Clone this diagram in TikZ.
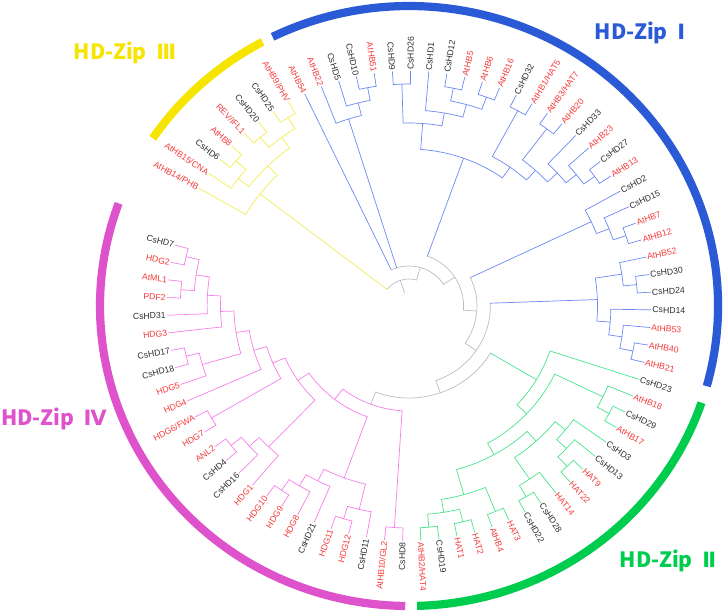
\documentclass[tikz,border=0pt]{standalone}
\usepackage{fontspec}
\setmainfont{Liberation Sans}
\newfontfamily\titlefont{Noto Sans CJK KR}
\newfontfamily\numfont{DejaVu Sans}
\usetikzlibrary{positioning}

\definecolor{zipone}{HTML}{2B5AD6}
\definecolor{ziptwo}{HTML}{00CC4E}
\definecolor{zipthree}{HTML}{F5E500}
\definecolor{zipfour}{HTML}{DE52CC}
\definecolor{onebr}{HTML}{6C88F4}
\definecolor{twobr}{HTML}{48E48C}
\definecolor{threebr}{HTML}{F3EC55}
\definecolor{fourbr}{HTML}{F77EE9}
\definecolor{backbr}{HTML}{BDBDBD}
\definecolor{atred}{HTML}{F53A3A}
\definecolor{csgrey}{HTML}{2E2E2E}

\tikzset{
  branch/.style={line width=0.6pt, line cap=round},
  leafname/.style={font=\fontsize{7.4}{8}\selectfont, inner sep=1pt},
  ring/.style={line width=7pt},
  cladename/.style={font=\titlefont\bfseries\fontsize{18}{21}\selectfont}
}

% leaf: name, index, branch colour, text colour, text
\newcommand{\tleaf}[5]{%
  \pgfmathsetmacro\leafang{165+4.3125*#2}%
  \expandafter\xdef\csname ta@#1\endcsname{\leafang}%
  \expandafter\xdef\csname th@#1\endcsname{0}%
  \expandafter\xdef\csname tc@#1\endcsname{#3}%
  \coordinate (#1) at (\leafang:235);
  \pgfmathsetmacro\leafrot{atan2(sin(\leafang),1.03*cos(\leafang))}%
  \pgfmathtruncatemacro\leafleft{cos(\leafang)<0 ? 1 : 0}%
  \ifnum\leafleft=1
    \node[leafname, text=#4, anchor=east, rotate=\leafrot-180] (#1-t) at (#1) {#5};
  \else
    \node[leafname, text=#4, anchor=west, rotate=\leafrot] (#1-t) at (#1) {#5};
  \fi}

% join: name, branch colour, children in order of angle
\newcommand{\tjoin}[3]{%
  \gdef\jfirst{}\gdef\jmax{0}%
  \foreach \kid in {#3}{%
    \edef\ka{\csname ta@\kid\endcsname}\edef\kh{\csname th@\kid\endcsname}%
    \ifx\jfirst\empty\xdef\jfirst{\ka}\fi
    \xdef\jlast{\ka}%
    \pgfmathsetmacro\jt{max(\jmax,\kh)}%
    \xdef\jmax{\jt}}%
  \pgfmathsetmacro\jh{\jmax+1}%
  \pgfmathsetmacro\jr{235-13*\jh}%
  \pgfmathsetmacro\jm{(\jfirst+\jlast)/2}%
  \coordinate (#1) at (\jm:\jr);
  \draw[branch, color=#2] (\jfirst:\jr) arc[start angle=\jfirst, end angle=\jlast, radius=\jr];
  \foreach \kid in {#3}{%
    \edef\ka{\csname ta@\kid\endcsname}\edef\kc{\csname tc@\kid\endcsname}%
    \draw[branch, color=\kc] (\ka:\jr) -- (\kid);}%
  \expandafter\xdef\csname ta@#1\endcsname{\jm}%
  \expandafter\xdef\csname th@#1\endcsname{\jh}%
  \expandafter\xdef\csname tc@#1\endcsname{#2}}

\begin{document}
\begin{tikzpicture}[x=0.3mm, y=0.3mm]
\useasboundingbox (-409,-306) rectangle (315,306);

\begin{scope}[xscale=1.03]
% HD-Zip IV leaves
\tleaf{cshd7}{0}{fourbr}{csgrey}{CsHD7}
\tleaf{hdg2}{1}{fourbr}{atred}{HDG2}
\tleaf{atml1}{2}{fourbr}{atred}{AtML1}
\tleaf{pdf2}{3}{fourbr}{atred}{PDF2}
\tleaf{cshd31}{4}{fourbr}{csgrey}{CsHD31}
\tleaf{hdg3}{5}{fourbr}{atred}{HDG3}
\tleaf{cshd17}{6}{fourbr}{csgrey}{CsHD17}
\tleaf{cshd18}{7}{fourbr}{csgrey}{CsHD18}
\tleaf{hdg5}{8}{fourbr}{atred}{HDG5}
\tleaf{hdg4}{9}{fourbr}{atred}{HDG4}
\tleaf{hdg6}{10}{fourbr}{atred}{HDG6/FWA}
\tleaf{hdg7}{11}{fourbr}{atred}{HDG7}
\tleaf{anl2}{12}{fourbr}{atred}{ANL2}
\tleaf{cshd4}{13}{fourbr}{csgrey}{CsHD4}
\tleaf{cshd16}{14}{fourbr}{csgrey}{CsHD16}
\tleaf{hdg1}{15}{fourbr}{atred}{HDG1}
\tleaf{hdg10}{16}{fourbr}{atred}{HDG10}
\tleaf{hdg9}{17}{fourbr}{atred}{HDG9}
\tleaf{hdg8}{18}{fourbr}{atred}{HDG8}
\tleaf{cshd21}{19}{fourbr}{csgrey}{CsHD21}
\tleaf{hdg11}{20}{fourbr}{atred}{HDG11}
\tleaf{hdg12}{21}{fourbr}{atred}{HDG12}
\tleaf{cshd11}{22}{fourbr}{csgrey}{CsHD11}
\tleaf{athb10}{23}{fourbr}{atred}{AtHB10/GL2}
\tleaf{cshd8}{24}{fourbr}{csgrey}{CsHD8}
% HD-Zip II leaves
\tleaf{athb2}{25}{twobr}{atred}{AtHB2/HAT4}
\tleaf{cshd19}{26}{twobr}{csgrey}{CsHD19}
\tleaf{hat1}{27}{twobr}{atred}{HAT1}
\tleaf{hat2}{28}{twobr}{atred}{HAT2}
\tleaf{athb4}{29}{twobr}{atred}{AtHB4}
\tleaf{hat3}{30}{twobr}{atred}{HAT3}
\tleaf{cshd22}{31}{twobr}{csgrey}{CsHD22}
\tleaf{cshd28}{32}{twobr}{csgrey}{CsHD28}
\tleaf{hat14}{33}{twobr}{atred}{HAT14}
\tleaf{hat22}{34}{twobr}{atred}{HAT22}
\tleaf{hat9}{35}{twobr}{atred}{HAT9}
\tleaf{cshd13}{36}{twobr}{csgrey}{CsHD13}
\tleaf{cshd3}{37}{twobr}{csgrey}{CsHD3}
\tleaf{athb17}{38}{twobr}{atred}{AtHB17}
\tleaf{cshd29}{39}{twobr}{csgrey}{CsHD29}
\tleaf{athb18}{40}{twobr}{atred}{AtHB18}
\tleaf{cshd23}{41}{twobr}{csgrey}{CsHD23}
% HD-Zip I leaves
\tleaf{athb21}{42}{onebr}{atred}{AtHB21}
\tleaf{athb40}{43}{onebr}{atred}{AtHB40}
\tleaf{athb53}{44}{onebr}{atred}{AtHB53}
\tleaf{cshd14}{45}{onebr}{csgrey}{CsHD14}
\tleaf{cshd24}{46}{onebr}{csgrey}{CsHD24}
\tleaf{cshd30}{47}{onebr}{csgrey}{CsHD30}
\tleaf{athb52}{48}{onebr}{atred}{AtHB52}
\tleaf{athb12}{49}{onebr}{atred}{AtHB12}
\tleaf{athb7}{50}{onebr}{atred}{AtHB7}
\tleaf{cshd15}{51}{onebr}{csgrey}{CsHD15}
\tleaf{cshd2}{52}{onebr}{csgrey}{CsHD2}
\tleaf{athb13}{53}{onebr}{atred}{AtHB13}
\tleaf{cshd27}{54}{onebr}{csgrey}{CsHD27}
\tleaf{athb23}{55}{onebr}{atred}{AtHB23}
\tleaf{cshd33}{56}{onebr}{csgrey}{CsHD33}
\tleaf{athb20}{57}{onebr}{atred}{AtHB20}
\tleaf{athb3}{58}{onebr}{atred}{AtHB3/HAT7}
\tleaf{athb1}{59}{onebr}{atred}{AtHB1/HAT5}
\tleaf{cshd32}{60}{onebr}{csgrey}{CsHD32}
\tleaf{athb16}{61}{onebr}{atred}{AtHB16}
\tleaf{athb6}{62}{onebr}{atred}{AtHB6}
\tleaf{athb5}{63}{onebr}{atred}{AtHB5}
\tleaf{cshd12}{64}{onebr}{csgrey}{CsHD12}
\tleaf{cshd1}{65}{onebr}{csgrey}{CsHD1}
\tleaf{cshd26}{66}{onebr}{csgrey}{CsHD26}
\tleaf{cshd9}{67}{onebr}{csgrey}{CsHD9}
\tleaf{athb51}{68}{onebr}{atred}{AtHB51}
\tleaf{cshd10}{69}{onebr}{csgrey}{CsHD10}
\tleaf{cshd5}{70}{onebr}{csgrey}{CsHD5}
\tleaf{athb22}{71}{onebr}{atred}{AtHB22}
\tleaf{athb54}{72}{onebr}{atred}{AtHB54}
% HD-Zip III leaves
\tleaf{athb9}{73}{threebr}{atred}{AtHB9/PHV}
\tleaf{cshd25}{74}{threebr}{csgrey}{CsHD25}
\tleaf{cshd20}{75}{threebr}{csgrey}{CsHD20}
\tleaf{rev}{76}{threebr}{atred}{REV/IFL1}
\tleaf{athb8}{77}{threebr}{atred}{AtHB8}
\tleaf{cshd6}{78}{threebr}{csgrey}{CsHD6}
\tleaf{athb15}{79}{threebr}{atred}{AtHB15/CNA}
\tleaf{athb14}{80}{threebr}{atred}{AtHB14/PHB}

% HD-Zip IV clades
\tjoin{p1}{fourbr}{cshd7,hdg2}
\tjoin{p2}{fourbr}{atml1,pdf2}
\tjoin{p3}{fourbr}{p1,p2}
\tjoin{p4}{fourbr}{p3,cshd31}
\tjoin{p5}{fourbr}{p4,hdg3}
\tjoin{p6}{fourbr}{cshd17,cshd18}
\tjoin{p7}{fourbr}{p6,hdg5}
\tjoin{p8}{fourbr}{p5,p7}
\tjoin{p9}{fourbr}{p8,hdg4}
\tjoin{p10}{fourbr}{hdg6,hdg7}
\tjoin{p11}{fourbr}{p9,p10}
\tjoin{p12}{fourbr}{anl2,cshd4}
\tjoin{p13}{fourbr}{p12,cshd16}
\tjoin{p14}{fourbr}{p13,hdg1}
\tjoin{p15}{fourbr}{p11,p14}
\tjoin{p16}{fourbr}{hdg10,hdg9}
\tjoin{p17}{fourbr}{p16,hdg8}
\tjoin{p18}{fourbr}{p17,cshd21}
\tjoin{p19}{fourbr}{hdg11,hdg12}
\tjoin{p20}{fourbr}{p19,cshd11}
\tjoin{p21}{fourbr}{p18,p20}
\tjoin{p22}{fourbr}{p15,p21}
\tjoin{p23}{fourbr}{athb10,cshd8}
\tjoin{p24}{fourbr}{p22,p23}
% the stem under the HD-Zip IV root stays grey
\expandafter\gdef\csname tc@p24\endcsname{backbr}
% HD-Zip II clades
\tjoin{g1}{twobr}{athb2,cshd19}
\tjoin{g2}{twobr}{hat1,hat2}
\tjoin{g3}{twobr}{g1,g2}
\tjoin{g4}{twobr}{athb4,hat3}
\tjoin{g5}{twobr}{g3,g4}
\tjoin{g6}{twobr}{cshd22,cshd28}
\tjoin{g7}{twobr}{g6,hat14}
\tjoin{g8}{twobr}{hat22,hat9}
\tjoin{g9}{twobr}{g8,cshd13}
\tjoin{g10}{twobr}{g9,cshd3}
\tjoin{g11}{twobr}{g7,g10}
\tjoin{g12}{twobr}{g5,g11}
\tjoin{g13}{twobr}{athb17,cshd29}
\tjoin{g14}{twobr}{g13,athb18}
\tjoin{g15}{twobr}{g12,g14}
\tjoin{g16}{twobr}{g15,cshd23}
% HD-Zip I clades
\tjoin{b1}{onebr}{athb21,athb40}
\tjoin{b2}{onebr}{b1,athb53}
\tjoin{b3}{onebr}{b2,cshd14}
\tjoin{b4}{onebr}{cshd24,cshd30}
\tjoin{b5}{onebr}{b4,athb52}
\tjoin{b6}{onebr}{b3,b5}
\tjoin{b7}{onebr}{athb12,athb7}
\tjoin{b8}{onebr}{b7,cshd15}
\tjoin{b9}{onebr}{b8,cshd2}
\tjoin{b10}{onebr}{athb13,cshd27}
\tjoin{b11}{onebr}{b10,athb23}
\tjoin{b12}{onebr}{b11,cshd33}
\tjoin{b13}{onebr}{athb20,athb3}
\tjoin{b14}{onebr}{b12,b13}
\tjoin{b15}{onebr}{athb1,cshd32}
\tjoin{b16}{onebr}{b14,b15}
\tjoin{b17}{onebr}{athb16,athb6}
\tjoin{b18}{onebr}{athb5,cshd12}
\tjoin{b19}{onebr}{b17,b18}
\tjoin{b20}{onebr}{b19,cshd1}
\tjoin{b21}{onebr}{cshd26,cshd9}
\tjoin{b22}{onebr}{b20,b21}
\tjoin{b23}{onebr}{b16,b22}
\tjoin{b24}{onebr}{athb51,cshd10}
\tjoin{b25}{onebr}{b24,cshd5}
\tjoin{b26}{onebr}{b25,athb22}
% HD-Zip III clades
\tjoin{y1}{threebr}{athb9,cshd25}
\tjoin{y2}{threebr}{cshd20,rev}
\tjoin{y3}{threebr}{y1,y2}
\tjoin{y4}{threebr}{athb8,cshd6}
\tjoin{y5}{threebr}{y4,athb15}
\tjoin{y6}{threebr}{y3,y5}
\tjoin{y7}{threebr}{y6,athb14}
% backbone
\tjoin{k1}{backbr}{p24,g16}
\tjoin{k2}{backbr}{k1,b6}
\tjoin{k3}{backbr}{k2,b9}
\tjoin{k4}{backbr}{k3,b23}
\tjoin{k5}{backbr}{k4,b26,athb54}
\tjoin{k6}{backbr}{k5,y7}
\edef\ka{\csname ta@k6\endcsname}
\coordinate (root) at (\ka:14);
\draw[branch, color=backbr] (root) -- (k6);

% clade rings
\draw[ring, zipone] (-15.5:300) arc[start angle=-15.5, end angle=116.2, radius=300];
\draw[ring, zipthree] (118.3:300) arc[start angle=118.3, end angle=146, radius=300];
\draw[ring, zipfour] (160:300) arc[start angle=160, end angle=269.3, radius=300];
\draw[ring, ziptwo] (271.5:300) arc[start angle=271.5, end angle=341.2, radius=300];
\end{scope}

\node[cladename, text=zipone] (titleone) at (231,273) {HD-Zip\hspace{0.45em}{\numfont\bfseries Ⅰ}};
\node[cladename, text=zipthree] (titlethree) at (-284,253) {HD-Zip\hspace{0.45em}{\numfont\bfseries Ⅲ}};
\node[cladename, text=zipfour] (titlefour) at (-355,-113) {HD-Zip\hspace{0.45em}{\numfont\bfseries Ⅳ}};
\node[cladename, text=ziptwo] (titletwo) at (259,-255) {HD-Zip\hspace{0.45em}{\numfont\bfseries Ⅱ}};
\end{tikzpicture}
\end{document}
